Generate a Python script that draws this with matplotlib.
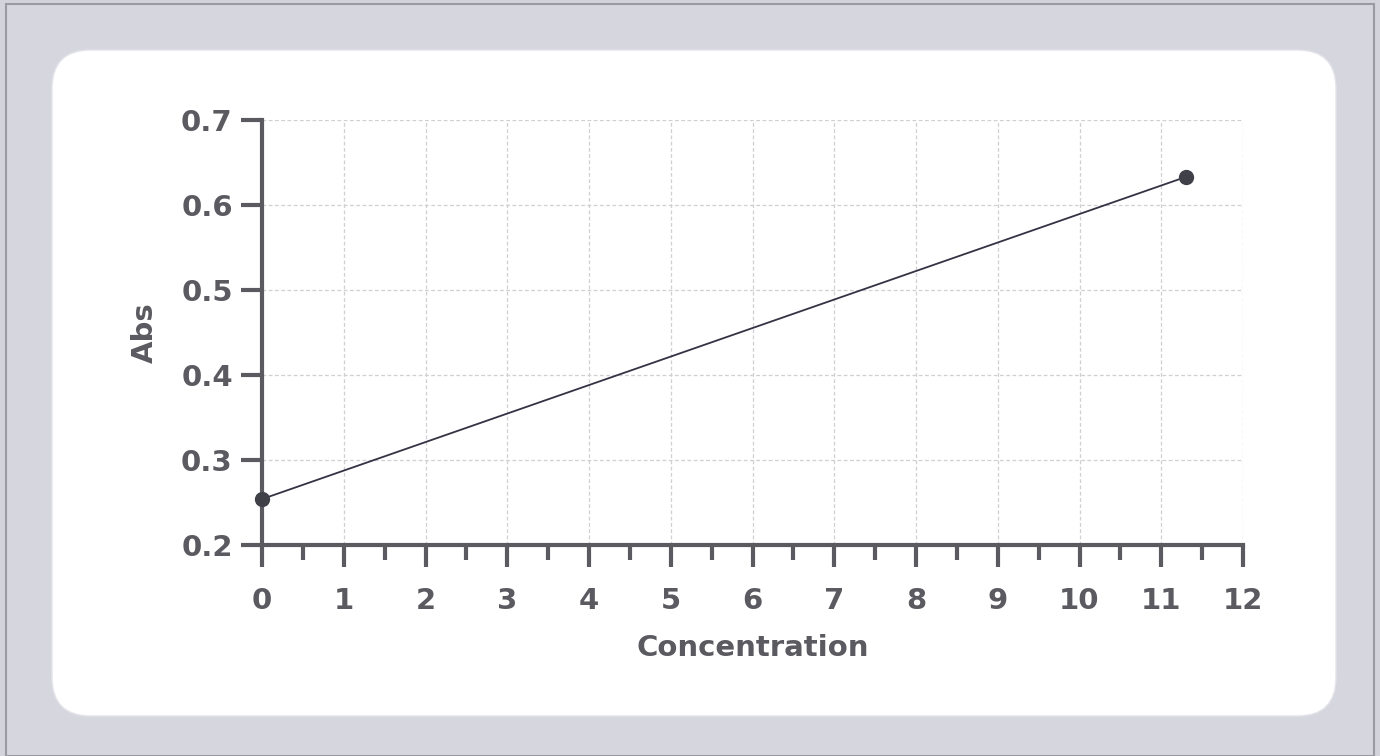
import matplotlib
matplotlib.use("Agg")
import matplotlib.pyplot as plt
from matplotlib.patches import FancyBboxPatch, Rectangle
import numpy as np

concentration = [0.0, 11.3]
absorbance = [0.254, 0.633]
x_ticks = list(range(0, 13))
y_ticks = [0.2, 0.3, 0.4, 0.5, 0.6, 0.7]
x_label = "Concentration"
y_label = "Abs"

plt.rcParams['font.family'] = ['DejaVu Sans']

fig = plt.figure(figsize=(13.8, 7.56), dpi=100)
fig.patch.set_facecolor('#d3d3db')
# outer frame
fig.patches.append(Rectangle((0.004, 0.0), 0.992, 0.995, transform=fig.transFigure,
                             facecolor='#d6d6de', edgecolor='#9a9aa2', linewidth=1.5, zorder=-3))
# white rounded panel
W, H = 1380, 756
fig.patches.append(FancyBboxPatch((52 / W, 1 - 716 / H), (1336 - 52) / W, (716 - 50) / H,
                                  boxstyle="round,pad=0,rounding_size=0.028",
                                  transform=fig.transFigure, facecolor='white',
                                  edgecolor='#e4e4ea', linewidth=1.0, zorder=-2,
                                  mutation_aspect=W / H))

ax = fig.add_axes([262 / W, 1 - 545 / H, (1243 - 262) / W, (545 - 120) / H])
ax.set_facecolor('none')
ax.set_zorder(1)
ax.set_xlim(0, 12)
ax.set_ylim(0.2, 0.7)

ax.plot(concentration, absorbance, color='#333344', linewidth=1.3, zorder=3, clip_on=False)
ax.scatter(concentration, absorbance, s=100, color='#404048', zorder=4, clip_on=False)

tc = '#5a5a60'
ax.set_xticks(x_ticks)
ax.set_xticks(np.arange(0.5, 12, 1.0), minor=True)
ax.set_yticks(y_ticks)
ax.set_yticklabels([f"{v:.1f}" for v in y_ticks])
ax.grid(True, which='major', color='#cfcfd4', linestyle=(0, (3, 2)), linewidth=0.9)

for side in ['top', 'right']:
    ax.spines[side].set_visible(False)
for side in ['left', 'bottom']:
    ax.spines[side].set_color('#5a5a60')
    ax.spines[side].set_linewidth(3.0)

ax.tick_params(axis='x', which='major', direction='out', length=16, width=3.0,
               color='#5a5a60', labelsize=21, labelcolor=tc, pad=14)
ax.tick_params(axis='x', which='minor', direction='out', length=11, width=3.0, color='#5a5a60')
ax.tick_params(axis='y', which='major', direction='out', length=15, width=3.0,
               color='#5a5a60', labelsize=21, labelcolor=tc, pad=6)
for lab in ax.get_xticklabels() + ax.get_yticklabels():
    lab.set_fontweight('bold')

ax.set_xlabel(x_label, fontsize=21, fontweight='bold', color=tc, labelpad=14)
ax.set_ylabel(y_label, fontsize=21, fontweight='bold', color=tc, labelpad=16)

fig.savefig("out.png", dpi=100, facecolor=fig.get_facecolor())
